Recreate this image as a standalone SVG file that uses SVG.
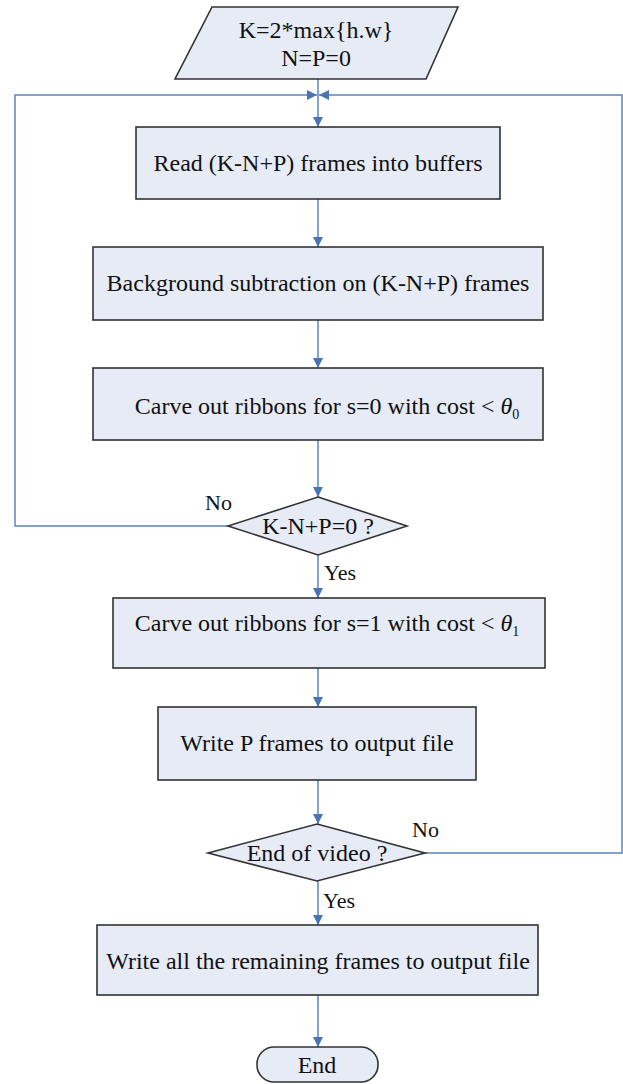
<svg xmlns="http://www.w3.org/2000/svg" width="623" height="1084" viewBox="0 0 623 1084">
<defs>
<style>
.box{fill:#E6EBF6;stroke:#333;stroke-width:1.6}
.t{font-family:"Liberation Serif","Times New Roman",serif;font-size:24px;fill:#111;text-anchor:middle}
.lbl{font-family:"Liberation Serif","Times New Roman",serif;font-size:22px;fill:#111}
.c{fill:none;stroke:#5B84C4;stroke-width:1.5}
</style>
<marker id="ah" viewBox="0 0 10 10" refX="10" refY="5" markerWidth="10" markerHeight="10" markerUnits="userSpaceOnUse" orient="auto">
<path d="M0,0 L10,5 L0,10 z" fill="#4A75B5"/>
</marker>
</defs>
<rect width="623" height="1084" fill="#fff"/>
<g id="connectors">
<line class="c" x1="318" y1="79" x2="318" y2="127" marker-end="url(#ah)"/>
<line class="c" x1="318" y1="199" x2="318" y2="247" marker-end="url(#ah)"/>
<line class="c" x1="318" y1="320" x2="318" y2="368" marker-end="url(#ah)"/>
<line class="c" x1="318" y1="440" x2="318" y2="497" marker-end="url(#ah)"/>
<line class="c" x1="318" y1="555" x2="318" y2="598" marker-end="url(#ah)"/>
<line class="c" x1="318" y1="668" x2="318" y2="707" marker-end="url(#ah)"/>
<line class="c" x1="318" y1="780" x2="318" y2="824" marker-end="url(#ah)"/>
<line class="c" x1="318" y1="881" x2="318" y2="925" marker-end="url(#ah)"/>
<line class="c" x1="318" y1="995" x2="318" y2="1047" marker-end="url(#ah)"/>
<polyline class="c" points="228,526 15,526 15,95 317,95" marker-end="url(#ah)"/>
<polyline class="c" points="425,853 622,853 622,95 319,95" marker-end="url(#ah)"/>
</g>
<g id="start">
<polygon class="box" points="212,7 458,7 426,79 175,79"/>
<text class="t" x="316" y="38">K=2*max{h.w}</text>
<text class="t" x="316" y="66">N=P=0</text>
</g>
<g id="read">
<rect class="box" x="136" y="127" width="364" height="72"/>
<text class="t" x="318" y="171">Read (K-N+P) frames into buffers</text>
</g>
<g id="bgsub">
<rect class="box" x="93" y="247" width="450" height="73"/>
<text class="t" x="318" y="291">Background subtraction on (K-N+P) frames</text>
</g>
<g id="carve0">
<rect class="box" x="93" y="368" width="450" height="72"/>
<text class="t" x="327" y="414">Carve out ribbons for s=0 with cost &lt; <tspan font-style="italic">θ</tspan><tspan font-size="14" dy="5">0</tspan></text>
</g>
<g id="check1">
<polygon class="box" points="318,497 407,526 318,555 228,526"/>
<text class="t" x="318" y="534">K-N+P=0 ?</text>
<text class="lbl" x="205" y="510">No</text>
<text class="lbl" x="324" y="580">Yes</text>
</g>
<g id="carve1">
<rect class="box" x="113" y="598" width="432" height="70"/>
<text class="t" x="327" y="631">Carve out ribbons for s=1 with cost &lt; <tspan font-style="italic">θ</tspan><tspan font-size="14" dy="5">1</tspan></text>
</g>
<g id="writep">
<rect class="box" x="158" y="707" width="318" height="73"/>
<text class="t" x="317" y="751">Write P frames to output file</text>
</g>
<g id="check2">
<polygon class="box" points="317,824 425,853 317,881 208,853"/>
<text class="t" x="317" y="861">End of video ?</text>
<text class="lbl" x="412" y="837">No</text>
<text class="lbl" x="323" y="908">Yes</text>
</g>
<g id="writeall">
<rect class="box" x="97" y="925" width="441" height="70"/>
<text class="t" x="318" y="969">Write all the remaining frames to output file</text>
</g>
<g id="end">
<rect class="box" x="257" y="1047" width="121" height="35" rx="17" ry="17"/>
<text class="t" x="317" y="1073">End</text>
</g>
</svg>
